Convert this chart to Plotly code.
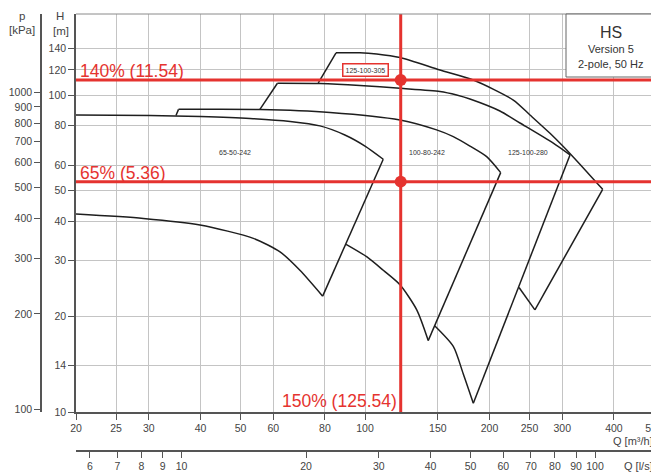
import math
import plotly.graph_objects as go

# ---------------- data (Q in m3/h, H in m) ----------------
# 65-50-242
a_top_q = [20, 30.2, 40, 52.7, 65.9, 77.8, 89.4, 100, 110.7]
a_top_h = [86.5, 86.2, 85.5, 84.3, 82.5, 79.9, 74.8, 69.0, 62.7]
a_bot_q = [20, 29.1, 39.9, 53.7, 62.3, 69.6, 79.0]
a_bot_h = [42.1, 40.8, 38.9, 35.3, 32.0, 28.0, 23.2]

# 100-80-242 (first point = start of left edge on the curve below)
b_top_q = [34.9, 35.4, 55.7, 82.3, 121.5, 149.0, 163.5, 179.4, 196.9, 212.9]
b_top_h = [86.2, 90.1, 90.0, 88.1, 83.4, 77.6, 73.9, 69.0, 63.9, 56.9]
b_bot_q = [90.0, 100.9, 110.7, 121.5, 133.4, 142.2]
b_bot_h = [33.8, 30.9, 28.0, 25.2, 21.0, 16.8]

# 125-100-280
c_top_q = [55.7, 61.4, 77.8, 97.2, 121.5, 151.8, 166.6, 179.4, 212.0, 237, 284.8, 313.2]
c_top_h = [90.1, 108.9, 108.7, 107.2, 105.0, 102.6, 100.0, 97.1, 89.0, 81.6, 70.6, 64.7]
c_bot_q = [147.6, 163.5, 172.8, 182.8]
c_bot_h = [18.67, 16.1, 13.2, 10.65]

# 125-100-305
d_top_q = [77.1, 85.1, 97.2, 106.7, 121.5, 151.8, 182.8, 228.4, 250.6, 280.2, 318.4, 375.7]
d_top_h = [109.3, 135.9, 135.9, 134.7, 131.3, 119.9, 111.5, 96.4, 86.5, 75.7, 63.9, 50.4]
d_bot_q = [235.8, 257.6]
d_bot_h = [24.7, 21.0]

family_names = ["65-50-242", "100-80-242", "125-100-280", "125-100-305"]
family_label_q = [48.5, 141, 248, 100]
family_label_h = [65.9, 65.9, 65.9, 120.3]

# duty point markers
red_h = [111.5, 53.3]
red_h_text = ["140% (11.54)", "65% (5.36)"]
red_q = 122.0
red_q_text = "150% (125.54)"

# axes
q_range = [20, 500]
h_range = [10, 180.1]
q_ticks = [20, 25, 30, 40, 50, 60, 80, 100, 150, 200, 250, 300, 400, 500]
h_ticks = [10, 14, 20, 30, 40, 50, 60, 80, 100, 120, 140]
p_ticks = [100, 200, 300, 400, 500, 600, 700, 800, 900, 1000]
ls_ticks = [6, 7, 8, 9, 10, 20, 30, 40, 50, 60, 70, 80, 90, 100]
RHO_G = 9.81      # kPa per m
M3H_PER_LS = 3.6

# ---------------- style ----------------
OFF = 8                      # page body margin of the browser
W, HGT = 659 - OFF, 473 - OFF
RED = "#e5332f"
BLACK = "#1e1e1e"
GRID = "#c4c4c4"
AXIS = "#555555"
TXT = "#444444"
FONT = "Liberation Sans, Arial, sans-serif"


def fx(px):
    return (px - OFF) / W


def fy(py):
    return 1 - (py - OFF) / HGT


fig = go.Figure()


def add_line(xs, ys, spline=False):
    line = dict(color=BLACK, width=1.5)
    if spline:
        line.update(shape="spline", smoothing=0.7)
    fig.add_trace(go.Scatter(x=xs, y=ys, mode="lines", line=line,
                             hoverinfo="skip", showlegend=False))


families = [
    (a_top_q, a_top_h, a_bot_q, a_bot_h, False),
    (b_top_q, b_top_h, b_bot_q, b_bot_h, True),
    (c_top_q, c_top_h, c_bot_q, c_bot_h, True),
    (d_top_q, d_top_h, d_bot_q, d_bot_h, True),
]
for tq, th, bq, bh, has_left in families:
    if has_left:
        add_line(tq[:2], th[:2])           # left edge
        add_line(tq[1:], th[1:], spline=True)
    else:
        add_line(tq, th, spline=True)
    add_line([tq[-1], bq[-1]], [th[-1], bh[-1]])   # right edge
    add_line(bq, bh, spline=True)

for h in red_h:
    fig.add_trace(go.Scatter(x=q_range, y=[h, h], mode="lines",
                             line=dict(color=RED, width=3), hoverinfo="skip",
                             showlegend=False, cliponaxis=False))
fig.add_trace(go.Scatter(x=[red_q, red_q], y=h_range, mode="lines",
                         line=dict(color=RED, width=3), hoverinfo="skip",
                         showlegend=False, cliponaxis=False))
fig.add_trace(go.Scatter(x=[red_q] * len(red_h), y=red_h, mode="markers",
                         marker=dict(color=RED, size=12), hoverinfo="skip",
                         showlegend=False))

# dummy traces to activate secondary axes
fig.add_trace(go.Scatter(x=[None], y=[None], xaxis="x2", yaxis="y", showlegend=False))
fig.add_trace(go.Scatter(x=[None], y=[None], xaxis="x", yaxis="y2", showlegend=False))

x_dom = [fx(76), fx(654)]
y_dom = [fy(412), fy(14)]
tickfont = dict(family=FONT, size=10.5, color=TXT)

common = dict(type="log", showline=True, linecolor=AXIS, linewidth=1.5,
              ticks="outside", ticklen=6, tickcolor=AXIS, tickwidth=1.2,
              tickfont=tickfont, zeroline=False, automargin=False,
              ticklabeloverflow="allow")

fig.update_layout(
    width=W, height=HGT, template="none",
    paper_bgcolor="white", plot_bgcolor="white",
    margin=dict(l=0, r=0, t=0, b=0, pad=0, autoexpand=False),
    showlegend=False,
    font=dict(family=FONT, color=TXT),
    xaxis=dict(common, domain=x_dom, anchor="y",
               range=[math.log10(q_range[0]), math.log10(q_range[1])],
               tickvals=q_ticks, ticktext=[str(v) for v in q_ticks],
               showgrid=True, gridcolor=GRID, gridwidth=1),
    yaxis=dict(common, domain=y_dom, anchor="x",
               range=[math.log10(h_range[0]), math.log10(h_range[1])],
               tickvals=h_ticks, ticktext=[str(v) for v in h_ticks],
               showgrid=True, gridcolor=GRID, gridwidth=1),
    xaxis2=dict(common, overlaying="x", anchor="free", position=fy(451), side="bottom",
                range=[math.log10(q_range[0] / M3H_PER_LS), math.log10(q_range[1] / M3H_PER_LS)],
                tickvals=ls_ticks, ticktext=[str(v) for v in ls_ticks], showgrid=False),
    yaxis2=dict(common, overlaying="y", anchor="free", position=fx(41), side="left",
                range=[math.log10(h_range[0] * RHO_G), math.log10(h_range[1] * RHO_G)],
                tickvals=p_ticks, ticktext=[str(v) for v in p_ticks], showgrid=False),
)

shapes = [
    dict(type="line", xref="x domain", yref="y domain", x0=0, x1=1, y0=1, y1=1,
         line=dict(color="#8a8a8a", width=1)),
    dict(type="line", xref="x domain", yref="y domain", x0=1, x1=1, y0=0, y1=1,
         line=dict(color="#8a8a8a", width=1)),
    dict(type="rect", xref="x domain", yref="y domain", x0=(566 - 76) / 578, x1=1.0,
         y0=(412 - 77) / 398, y1=1.0, fillcolor="white",
         line=dict(color="#666666", width=1)),
]
fig.update_layout(shapes=shapes)

ann = []


def paper_text(px, py, text, size, color=TXT, xanchor="center"):
    ann.append(dict(xref="paper", yref="paper", x=fx(px), y=fy(py), text=text,
                    xanchor=xanchor, yanchor="middle", showarrow=False,
                    font=dict(size=size, color=color)))


paper_text(22, 16, "p", 11.5)
paper_text(22, 30.5, "[kPa]", 11.5)
paper_text(60, 16, "H", 11.5)
paper_text(61, 31, "[m]", 11.5)
paper_text(655, 441, "Q [m³/h]", 11, xanchor="right")
paper_text(655, 466, "Q [l/s]", 11, xanchor="right")
bx = (566 + 655) / 2
paper_text(bx, 32, "HS", 16, "#333333")
paper_text(bx, 49, "Version 5", 11, "#333333")
paper_text(bx, 64, "2-pole, 50 Hz", 11, "#333333")

for i, (name, q, h) in enumerate(zip(family_names, family_label_q, family_label_h)):
    extra = {}
    if i == 3:
        extra = dict(bordercolor=RED, borderwidth=1.5, borderpad=2, bgcolor="white")
    ann.append(dict(x=math.log10(q), y=math.log10(h), text=name, showarrow=False,
                    font=dict(size=7, color="#333333"), **extra))

for h, t in zip(red_h, red_h_text):
    ann.append(dict(x=math.log10(q_range[0]) + 0.006, y=math.log10(h), text=t,
                    xanchor="left", yanchor="bottom", showarrow=False, yshift=-3,
                    font=dict(size=17.5, color=RED)))
ann.append(dict(x=math.log10(red_q), y=math.log10(h_range[0]), text=red_q_text,
                xanchor="right", yanchor="bottom", showarrow=False, xshift=-2, yshift=-1,
                font=dict(size=17.5, color=RED)))
fig.update_layout(annotations=ann)

fig.write_html("out.html")
